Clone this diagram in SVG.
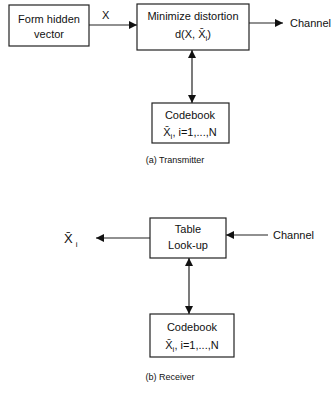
<svg xmlns="http://www.w3.org/2000/svg" width="332" height="395" viewBox="0 0 332 395">
<style>
.box{fill:#fff;stroke:#222;stroke-width:1.2}
.t{font-family:"Liberation Sans","DejaVu Sans",sans-serif;font-size:11px;fill:#111;text-anchor:middle}
.l{font-family:"Liberation Sans","DejaVu Sans",sans-serif;font-size:11px;fill:#111}
.c{font-family:"Liberation Sans","DejaVu Sans",sans-serif;font-size:9px;fill:#111;text-anchor:middle}
.e{stroke:#222;stroke-width:1.2;fill:none}
</style>
<defs>
<marker id="ah" viewBox="0 0 10 10" refX="10" refY="5" markerWidth="9" markerHeight="8" markerUnits="userSpaceOnUse" orient="auto-start-reverse">
<path d="M0,0 L10,5 L0,10 z" fill="#111"/>
</marker>
</defs>
<g id="connectors">
<line class="e" x1="89" y1="25" x2="137" y2="25" marker-end="url(#ah)"/>
<text class="l" x="102" y="19">X</text>
<line class="e" x1="249" y1="23" x2="283" y2="23" marker-end="url(#ah)"/>
<line class="e" x1="192" y1="50" x2="192" y2="103" marker-start="url(#ah)" marker-end="url(#ah)"/>
<line class="e" x1="150" y1="238" x2="96" y2="238" marker-end="url(#ah)"/>
<line class="e" x1="268" y1="235" x2="226" y2="235" marker-end="url(#ah)"/>
<line class="e" x1="189" y1="258" x2="189" y2="314" marker-start="url(#ah)" marker-end="url(#ah)"/>
</g>
<g id="form">
<rect class="box" x="9" y="5" width="80" height="41"/>
<text class="t" x="49" y="23">Form hidden</text>
<text class="t" x="49" y="38">vector</text>
</g>
<g id="minimize">
<rect class="box" x="137" y="4" width="112" height="46"/>
<text class="t" x="193" y="20">Minimize distortion</text>
<text class="t" x="193" y="38">d(X, X̄<tspan style="font-size:8px" dy="3">i</tspan><tspan dy="-3">)</tspan></text>
</g>
<g id="channel-out">
<text class="l" x="290" y="27">Channel</text>
</g>
<g id="codebook-a">
<rect class="box" x="152" y="103" width="77" height="40"/>
<text class="t" x="190" y="119">Codebook</text>
<text class="t" x="190" y="136">X̄<tspan style="font-size:8px" dy="3">i</tspan><tspan dy="-3">, i=1,...,N</tspan></text>
</g>
<text class="c" x="175" y="163">(a) Transmitter</text>
<g id="table">
<rect class="box" x="150" y="218" width="76" height="40"/>
<text class="t" x="188" y="233">Table</text>
<text class="t" x="188" y="249">Look-up</text>
</g>
<g id="xi-out">
<text class="l" x="64" y="243" style="font-size:13px">X̄<tspan style="font-size:8px" dx="3" dy="4">i</tspan></text>
</g>
<g id="channel-in">
<text class="l" x="273" y="239">Channel</text>
</g>
<g id="codebook-b">
<rect class="box" x="150" y="314" width="84" height="43"/>
<text class="t" x="192" y="331">Codebook</text>
<text class="t" x="192" y="349">X̄<tspan style="font-size:8px" dy="3">i</tspan><tspan dy="-3">, i=1,...,N</tspan></text>
</g>
<text class="c" x="170" y="380">(b) Receiver</text>
</svg>
